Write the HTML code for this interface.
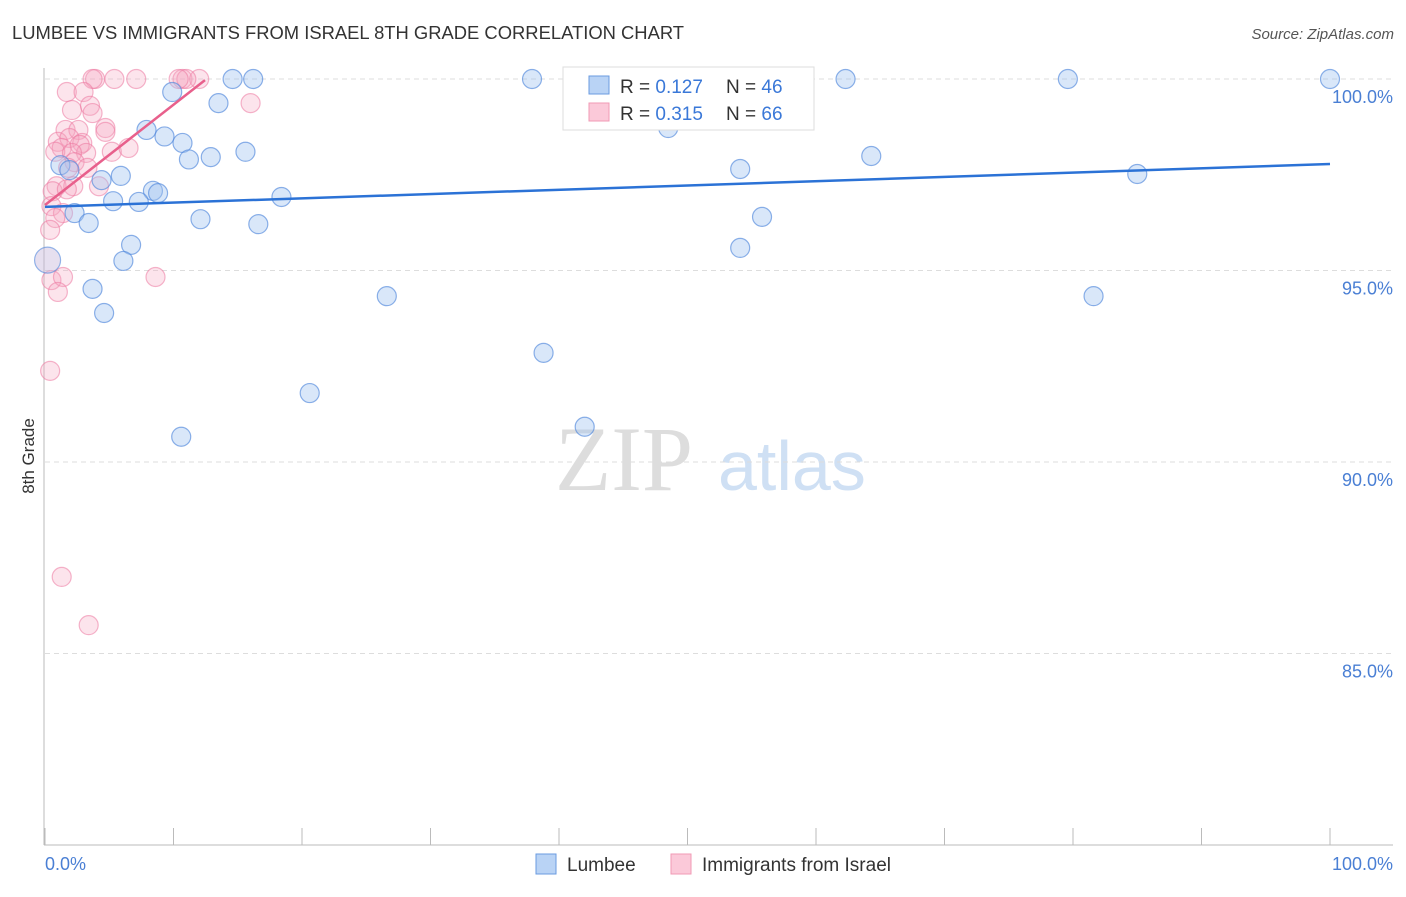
<!DOCTYPE html>
<html><head><meta charset="utf-8"><style>
body{margin:0;background:#fff;font-family:"Liberation Sans",sans-serif}
</style></head><body>
<svg width="1406" height="892" viewBox="0 0 1406 892" xmlns="http://www.w3.org/2000/svg">
<text x="12" y="39" font-size="18.4" fill="#333">LUMBEE VS IMMIGRANTS FROM ISRAEL 8TH GRADE CORRELATION CHART</text>
<text x="1394" y="39" font-size="15" fill="#555" text-anchor="end" font-style="italic">Source: ZipAtlas.com</text>
<text x="555" y="490" font-size="92" fill="#ddd" font-family="Liberation Serif,serif">ZIP</text>
<text x="718" y="490" font-size="70" fill="#cfe0f4">atlas</text>
<g id="grid"></g>
<line x1="44" y1="68" x2="44" y2="845" stroke="#bbb"/>
<line x1="44" y1="845" x2="1393" y2="845" stroke="#bbb"/>
<text transform="translate(34,456) rotate(-90)" font-size="17" fill="#333" text-anchor="middle">8th Grade</text>
<text x="45" y="870" font-size="18" fill="#4a7fd4">0.0%</text>
<text x="1393" y="870" font-size="18" fill="#4a7fd4" text-anchor="end">100.0%</text>
<g id="pts"></g>
<g id="lines"></g>
<g>
<rect x="563" y="67" width="251" height="63" fill="#fff" stroke="#ddd"/>
<rect x="589" y="76" width="20" height="18" fill="#b9d3f5" stroke="#6a9be0"/>
<rect x="589" y="103" width="20" height="18" fill="#fbc9d9" stroke="#f09ab5"/>
<text x="620" y="93" font-size="19" fill="#333">R = <tspan fill="#3a78d8">0.127</tspan></text>
<text x="726" y="93" font-size="19" fill="#333">N = <tspan fill="#3a78d8">46</tspan></text>
<text x="620" y="120" font-size="19" fill="#333">R = <tspan fill="#3a78d8">0.315</tspan></text>
<text x="726" y="120" font-size="19" fill="#333">N = <tspan fill="#3a78d8">66</tspan></text>
</g>
<g><rect x="536" y="854" width="20" height="20" fill="#b9d3f5" stroke="#6a9be0"/><text x="567" y="871" font-size="19" fill="#333">Lumbee</text></g>
<g><rect x="671" y="854" width="20" height="20" fill="#fbc9d9" stroke="#f09ab5"/><text x="702" y="871" font-size="19" fill="#333">Immigrants from Israel</text></g>
</svg>
<script>
const yTicks=[100,95,90,85];
const yTickLabels=["100.0%","95.0%","90.0%","85.0%"];
const xTicks=[0,10,20,30,40,50,60,70,80,90,100];
const blueX=[9.9,14.6,16.2,37.9,62.3,79.6,100,13.5,7.9,9.3,10.7,11.2,12.9,15.6,48.5,54.1,64.3,85.0,1.2,1.9,4.4,5.9,8.4,8.8,5.3,7.3,18.4,2.3,3.4,12.1,16.6,55.8,6.7,54.1,6.1,3.7,26.6,81.6,4.6,38.8,20.6,10.6,42.0];
const blueY=[99.66,100,100,100,100,100,100,99.37,98.67,98.5,98.33,97.9,97.96,98.1,98.72,97.65,97.99,97.52,97.75,97.62,97.36,97.47,97.08,97.02,96.81,96.79,96.92,96.5,96.24,96.34,96.21,96.4,95.67,95.59,95.25,94.52,94.33,94.33,93.89,92.85,91.8,90.66,90.92];
const pinkX=[3.9,5.4,7.1,3.7,10.7,12.0,11.0,10.4,1.7,3.0,2.1,3.5,3.7,16.0,4.7,4.7,1.6,2.6,1.0,1.9,2.9,1.3,0.8,2.7,3.2,2.1,5.2,6.5,2.3,1.8,3.3,0.9,2.2,4.2,0.6,1.7,0.5,1.4,0.8,0.4,0.5,1.4,1.0,8.6,0.4,1.3,3.4];
const pinkY=[100,100,100,100,100,100,100,100,99.66,99.66,99.19,99.3,99.11,99.37,98.72,98.62,98.67,98.67,98.36,98.46,98.33,98.2,98.1,98.28,98.07,98.07,98.1,98.2,97.83,97.68,97.68,97.2,97.2,97.2,97.07,97.12,96.68,96.5,96.37,96.06,94.75,94.83,94.44,94.83,92.38,87.0,85.74];
const blueTrend=[[0,96.66],[100,97.78]];
const pinkTrend=[[0,96.71],[12.45,99.97]];
const X=p=>45+12.85*p, Y=v=>79+(100-v)*38.3;
const NS="http://www.w3.org/2000/svg";
function mk(t,a,parent){const e=document.createElementNS(NS,t);for(const k in a)e.setAttribute(k,a[k]);document.getElementById(parent).appendChild(e);return e;}
yTicks.forEach((v,i)=>{
 const l=mk('line',{x1:45,x2:1393,y1:Y(v),y2:Y(v),stroke:'#ddd','stroke-dasharray':'5,4'},'grid');
 
 
 const t=mk('text',{x:1393,y:Y(v)+24,'font-size':18,fill:'#4a7fd4','text-anchor':'end'},'grid');t.textContent=yTickLabels[i];
 
 
});
xTicks.forEach(p=>{
 const l=mk('line',{x1:X(p),x2:X(p),y1:828,y2:845,stroke:'#bbb'},'grid');
 
 
});
pinkX.forEach((p,i)=>{
 const c=mk('circle',{cx:X(p),cy:Y(pinkY[i]),r:9.5,fill:'rgba(246,165,192,0.3)',stroke:'rgba(236,120,160,0.55)','stroke-width':1.2},'pts');
 
 
});
blueX.forEach((p,i)=>{
 const c=mk('circle',{cx:X(p),cy:Y(blueY[i]),r:9.5,fill:'rgba(160,195,240,0.4)',stroke:'rgba(80,135,220,0.65)','stroke-width':1.2},'pts');
 
 
});
const big=mk('circle',{cx:X(0.2),cy:Y(95.27),r:13,fill:'rgba(200,185,220,0.45)',stroke:'rgba(80,135,220,0.6)','stroke-width':1.2},'pts');


const bl=mk('line',{x1:X(blueTrend[0][0]),y1:Y(blueTrend[0][1]),x2:X(blueTrend[1][0]),y2:Y(blueTrend[1][1]),stroke:'#2b72d6','stroke-width':2.5},'lines');


const pl=mk('line',{x1:X(pinkTrend[0][0]),y1:Y(pinkTrend[0][1]),x2:X(pinkTrend[1][0]),y2:Y(pinkTrend[1][1]),stroke:'#e8608c','stroke-width':2.5},'lines');


</script>
</body></html>
